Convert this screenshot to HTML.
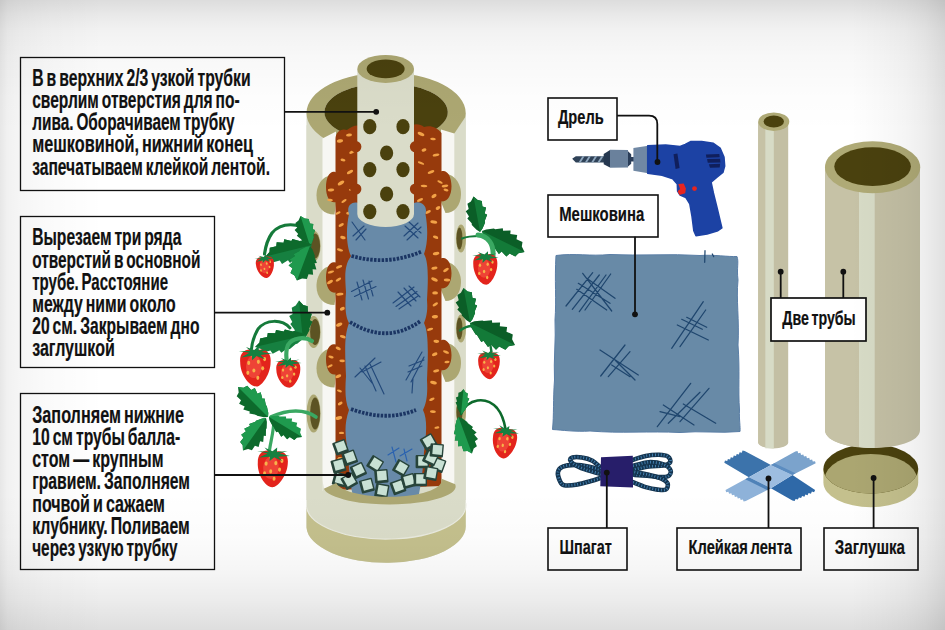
<!DOCTYPE html>
<html lang="ru"><head><meta charset="utf-8"><title>Клубника в трубе</title>
<style>html,body{margin:0;padding:0;background:#f1f1f1;}body{width:945px;height:630px;overflow:hidden}svg{display:block}text{font-family:"Liberation Sans",sans-serif;font-weight:bold;fill:#111;stroke:#111;stroke-width:0.2px;word-spacing:-2px}</style>
</head><body>
<svg width="945" height="630" viewBox="0 0 945 630">
<defs>
<linearGradient id="bgv" x1="0" y1="0" x2="0" y2="1">
<stop offset="0" stop-color="#000" stop-opacity="0.135"/><stop offset="0.025" stop-color="#000" stop-opacity="0.085"/><stop offset="0.05" stop-color="#000" stop-opacity="0.05"/><stop offset="0.09" stop-color="#000" stop-opacity="0.028"/><stop offset="0.15" stop-color="#000" stop-opacity="0.01"/><stop offset="0.21" stop-color="#000" stop-opacity="0"/>
<stop offset="0.78" stop-color="#000" stop-opacity="0"/><stop offset="0.86" stop-color="#000" stop-opacity="0.015"/><stop offset="0.91" stop-color="#000" stop-opacity="0.04"/><stop offset="0.955" stop-color="#000" stop-opacity="0.078"/><stop offset="1" stop-color="#000" stop-opacity="0.13"/>
</linearGradient>
<linearGradient id="bgh" x1="0" y1="0" x2="1" y2="0">
<stop offset="0" stop-color="#000" stop-opacity="0.095"/><stop offset="0.008" stop-color="#000" stop-opacity="0.055"/><stop offset="0.021" stop-color="#000" stop-opacity="0.038"/><stop offset="0.05" stop-color="#000" stop-opacity="0.02"/><stop offset="0.11" stop-color="#000" stop-opacity="0"/>
<stop offset="0.90" stop-color="#000" stop-opacity="0"/><stop offset="0.93" stop-color="#000" stop-opacity="0.018"/><stop offset="0.958" stop-color="#000" stop-opacity="0.04"/><stop offset="0.979" stop-color="#000" stop-opacity="0.07"/><stop offset="1" stop-color="#000" stop-opacity="0.12"/>
</linearGradient>
</defs>
<rect width="945" height="630" fill="#ffffff"/>
<g id="tube">
<path d="M306.5,113 L306.5,527.5 A79.6,36.5 0 0 0 465.7,525 L465.7,113 Z" fill="#dadcc9"/>
<path d="M306.5,507 A79.6,34 0 0 0 465.7,503 L465.7,525 A79.6,36.5 0 0 1 306.5,527.5 Z" fill="#c4c08d"/>
<path d="M306.5,507 A79.6,34 0 0 0 465.7,503" fill="none" stroke="#e9eadf" stroke-width="1.2"/>
<path fill-rule="evenodd" fill="#aca772" d="M306.5,113 A79.6,40.5 0 1 1 465.7,113 A79.6,40.5 0 1 1 306.5,113 Z M324.4,112 A61.7,29 0 1 0 447.8,112 A61.7,29 0 1 0 324.4,112 Z"/>
<ellipse cx="386.1" cy="112" rx="61.7" ry="29" fill="#4a410e"/>
<path d="M306.5,125 L322.5,138.5 L322.5,500 L306.5,500 Z" fill="#dadcc9"/>
<path d="M465.7,116.5 L454.3,133.5 L454.3,500 L465.7,500 Z" fill="#dadcc9"/>
<path d="M322.5,138.5 L336,131.5 L336,491 L322.5,491 Z" fill="#f7f7f3"/>
<path d="M441,129.5 L454.3,133.5 L454.3,487 L441,487 Z" fill="#f7f7f3"/>
<path d="M336,174.5 C322,174.5 316.5,185.5 316.5,195.5 C316.5,207.5 324,214.5 334.5,214.5 L336,203.5 Z" fill="#aca772"/>
<path d="M336,265 C322,265 316.5,276 316.5,286 C316.5,298 324,305 334.5,305 L336,294 Z" fill="#aca772"/>
<path d="M336,347.5 C322,347.5 316.5,358.5 316.5,368.5 C316.5,380.5 324,387.5 334.5,387.5 L336,376.5 Z" fill="#aca772"/>
<path d="M441,173 C455,173 461,184 461,194 C461,206 454,213 445.5,213 L441,202 Z" fill="#aca772"/>
<path d="M441,261 C455,261 461,272 461,282 C461,294 454,301 445.5,301 L441,290 Z" fill="#aca772"/>
<path d="M441,342 C455,342 461,353 461,363 C461,375 454,382 445.5,382 L441,371 Z" fill="#aca772"/>
<path d="M335.5,140 C335,132 341,128 347,130 C352,126 358,124 362,127 L410,127 C414,123 420,124 424,127 C430,125 437,127 441.5,133 L441.5,171.3 C447,169.3 451.5,176.3 451.5,186.3 C451.5,196.3 447,202.3 441.5,201.3 L441.5,258.3 C447,256.3 451.5,263.3 451.5,273.3 C451.5,283.3 447,289.3 441.5,288.3 L441.5,340.2 C447,338.2 451.5,345.2 451.5,355.2 C451.5,365.2 447,371.2 441.5,370.2 L441.5,486 L335.5,490 L335.5,374.5 C330,375.5 326,369.5 326,359.5 C326,349.5 330,342.5 335.5,344.5 L335.5,292.6 C330,293.6 326,287.6 326,277.6 C326,267.6 330,260.6 335.5,262.6 L335.5,202.2 C330,203.2 326,197.2 326,187.2 C326,177.2 330,170.2 335.5,172.2 Z" fill="#973a0c"/>
<g fill="#f2a247"><ellipse cx="340.0" cy="141.0" rx="3.1" ry="1.7" transform="rotate(-8 340.0 141.0)"/><ellipse cx="349.0" cy="135.0" rx="3.0" ry="1.5" transform="rotate(-7 349.0 135.0)"/><ellipse cx="352.0" cy="152.0" rx="3.0" ry="1.5" transform="rotate(-24 352.0 152.0)"/><ellipse cx="343.0" cy="160.0" rx="2.5" ry="1.4" transform="rotate(13 343.0 160.0)"/><ellipse cx="350.0" cy="172.0" rx="3.4" ry="1.5" transform="rotate(-30 350.0 172.0)"/><ellipse cx="341.0" cy="183.0" rx="3.6" ry="1.7" transform="rotate(-32 341.0 183.0)"/><ellipse cx="352.0" cy="190.0" rx="3.1" ry="1.3" transform="rotate(4 352.0 190.0)"/><ellipse cx="344.0" cy="201.0" rx="3.0" ry="1.2" transform="rotate(-34 344.0 201.0)"/><ellipse cx="338.0" cy="213.0" rx="2.7" ry="1.2" transform="rotate(-24 338.0 213.0)"/><ellipse cx="349.0" cy="213.0" rx="2.9" ry="1.6" transform="rotate(-7 349.0 213.0)"/><ellipse cx="331.0" cy="190.0" rx="3.2" ry="1.4" transform="rotate(-4 331.0 190.0)"/><ellipse cx="330.0" cy="200.0" rx="2.9" ry="1.3" transform="rotate(5 330.0 200.0)"/><ellipse cx="421.0" cy="134.0" rx="3.6" ry="1.6" transform="rotate(25 421.0 134.0)"/><ellipse cx="433.0" cy="139.0" rx="2.8" ry="1.3" transform="rotate(7 433.0 139.0)"/><ellipse cx="424.0" cy="150.0" rx="2.5" ry="1.6" transform="rotate(-18 424.0 150.0)"/><ellipse cx="436.0" cy="155.0" rx="3.4" ry="1.4" transform="rotate(-11 436.0 155.0)"/><ellipse cx="421.0" cy="163.0" rx="3.4" ry="1.2" transform="rotate(22 421.0 163.0)"/><ellipse cx="431.0" cy="172.0" rx="3.5" ry="1.4" transform="rotate(-22 431.0 172.0)"/><ellipse cx="440.0" cy="182.0" rx="2.9" ry="1.2" transform="rotate(24 440.0 182.0)"/><ellipse cx="424.0" cy="186.0" rx="3.3" ry="1.3" transform="rotate(3 424.0 186.0)"/><ellipse cx="434.0" cy="196.0" rx="2.8" ry="1.7" transform="rotate(-30 434.0 196.0)"/><ellipse cx="446.0" cy="190.0" rx="2.5" ry="1.3" transform="rotate(10 446.0 190.0)"/><ellipse cx="438.0" cy="208.0" rx="2.5" ry="1.6" transform="rotate(-29 438.0 208.0)"/><ellipse cx="428.0" cy="212.0" rx="3.1" ry="1.4" transform="rotate(-24 428.0 212.0)"/><ellipse cx="420.0" cy="200.0" rx="3.3" ry="1.3" transform="rotate(-24 420.0 200.0)"/><ellipse cx="341.2" cy="225.0" rx="2.9" ry="1.3" transform="rotate(-28 341.2 225.0)"/><ellipse cx="342.9" cy="237.6" rx="2.8" ry="1.6" transform="rotate(13 342.9 237.6)"/><ellipse cx="340.0" cy="249.9" rx="3.2" ry="1.3" transform="rotate(16 340.0 249.9)"/><ellipse cx="339.1" cy="266.8" rx="3.3" ry="1.4" transform="rotate(-20 339.1 266.8)"/><ellipse cx="338.4" cy="279.6" rx="3.1" ry="1.3" transform="rotate(-30 338.4 279.6)"/><ellipse cx="339.9" cy="294.2" rx="3.6" ry="1.4" transform="rotate(-8 339.9 294.2)"/><ellipse cx="342.3" cy="308.7" rx="2.6" ry="1.7" transform="rotate(-24 342.3 308.7)"/><ellipse cx="339.2" cy="324.6" rx="3.3" ry="1.7" transform="rotate(-24 339.2 324.6)"/><ellipse cx="342.8" cy="336.7" rx="3.1" ry="1.4" transform="rotate(18 342.8 336.7)"/><ellipse cx="338.2" cy="348.4" rx="2.7" ry="1.6" transform="rotate(23 338.2 348.4)"/><ellipse cx="342.1" cy="360.9" rx="2.8" ry="1.3" transform="rotate(1 342.1 360.9)"/><ellipse cx="338.3" cy="376.2" rx="3.1" ry="1.6" transform="rotate(-21 338.3 376.2)"/><ellipse cx="339.4" cy="390.9" rx="2.6" ry="1.2" transform="rotate(20 339.4 390.9)"/><ellipse cx="340.2" cy="403.5" rx="2.6" ry="1.4" transform="rotate(-31 340.2 403.5)"/><ellipse cx="338.7" cy="418.0" rx="3.5" ry="1.7" transform="rotate(-13 338.7 418.0)"/><ellipse cx="341.5" cy="432.9" rx="2.6" ry="1.2" transform="rotate(0 341.5 432.9)"/><ellipse cx="342.6" cy="444.0" rx="3.6" ry="1.2" transform="rotate(7 342.6 444.0)"/><ellipse cx="340.4" cy="458.8" rx="2.8" ry="1.7" transform="rotate(9 340.4 458.8)"/><ellipse cx="433.8" cy="222.0" rx="3.5" ry="1.6" transform="rotate(9 433.8 222.0)"/><ellipse cx="435.6" cy="237.2" rx="2.8" ry="1.5" transform="rotate(20 435.6 237.2)"/><ellipse cx="436.1" cy="253.6" rx="3.3" ry="1.6" transform="rotate(-10 436.1 253.6)"/><ellipse cx="434.4" cy="268.1" rx="3.1" ry="1.5" transform="rotate(-12 434.4 268.1)"/><ellipse cx="434.5" cy="279.5" rx="3.5" ry="1.6" transform="rotate(25 434.5 279.5)"/><ellipse cx="435.1" cy="292.9" rx="2.9" ry="1.6" transform="rotate(-0 435.1 292.9)"/><ellipse cx="435.3" cy="304.4" rx="3.1" ry="1.4" transform="rotate(-33 435.3 304.4)"/><ellipse cx="434.9" cy="316.8" rx="3.1" ry="1.7" transform="rotate(-5 434.9 316.8)"/><ellipse cx="430.1" cy="329.3" rx="3.2" ry="1.3" transform="rotate(-17 430.1 329.3)"/><ellipse cx="436.3" cy="341.3" rx="2.9" ry="1.6" transform="rotate(5 436.3 341.3)"/><ellipse cx="434.7" cy="354.3" rx="2.9" ry="1.6" transform="rotate(-23 434.7 354.3)"/><ellipse cx="436.2" cy="370.8" rx="3.1" ry="1.4" transform="rotate(-12 436.2 370.8)"/><ellipse cx="433.5" cy="382.6" rx="3.4" ry="1.6" transform="rotate(15 433.5 382.6)"/><ellipse cx="431.9" cy="399.3" rx="2.9" ry="1.3" transform="rotate(-25 431.9 399.3)"/><ellipse cx="432.9" cy="411.6" rx="3.0" ry="1.4" transform="rotate(3 432.9 411.6)"/><ellipse cx="436.9" cy="427.6" rx="2.5" ry="1.2" transform="rotate(-8 436.9 427.6)"/><ellipse cx="330.0" cy="282.0" rx="3.3" ry="1.5" transform="rotate(-33 330.0 282.0)"/><ellipse cx="331.0" cy="272.0" rx="3.3" ry="1.2" transform="rotate(-16 331.0 272.0)"/><ellipse cx="330.0" cy="366.0" rx="2.9" ry="1.2" transform="rotate(-27 330.0 366.0)"/><ellipse cx="331.0" cy="357.0" rx="2.7" ry="1.3" transform="rotate(15 331.0 357.0)"/><ellipse cx="446.0" cy="270.0" rx="3.2" ry="1.4" transform="rotate(-32 446.0 270.0)"/><ellipse cx="447.0" cy="280.0" rx="3.2" ry="1.6" transform="rotate(3 447.0 280.0)"/><ellipse cx="446.0" cy="352.0" rx="3.2" ry="1.3" transform="rotate(23 446.0 352.0)"/><ellipse cx="447.0" cy="362.0" rx="2.6" ry="1.2" transform="rotate(-6 447.0 362.0)"/><ellipse cx="445.0" cy="186.0" rx="3.3" ry="1.3" transform="rotate(-7 445.0 186.0)"/></g>
<path d="M349,214 C346,206 352,201 358,203 L414,203 C421,200 428,206 425.5,214 C428,228 428,244 424,254 C429,262 428,282 427,300 C428,312 426,318 424,323 C429,333 428,356 427,380 C428,396 426,404 423,410 C428,420 426,436 424,452 C423,470 421,486 418,498 L354,498 C350,488 349,470 348,452 C345,436 344,424 349,410 C345,402 345,390 346,376 C345,352 344,336 349,323 C345,316 345,304 346,292 C345,276 344,266 351,256 C346,246 346,228 349,214 Z" fill="#688aa8"/>
<path d="M351.5,256 Q388,266 421.5,251.5" fill="none" stroke="#1b3563" stroke-width="3.8" stroke-dasharray="2.5 1.3"/>
<path d="M350,322 Q387,345 420.5,321" fill="none" stroke="#1b3563" stroke-width="3.8" stroke-dasharray="2.5 1.3"/>
<path d="M351,409 Q386,422 416,410" fill="none" stroke="#1b3563" stroke-width="3.8" stroke-dasharray="2.5 1.3"/>
<path d="M352.0,222.0 L365.0,240.0 M353.0,236.0 L364.0,226.0 M356.0,240.0 L366.0,229.0" fill="none" stroke="#23497a" stroke-width="1.15" stroke-linecap="round"/>
<path d="M404.0,236.0 L418.0,223.0 M407.0,240.0 L421.0,227.0 M405.0,226.0 L418.0,238.0 M409.0,222.0 L421.0,233.0" fill="none" stroke="#23497a" stroke-width="1.15" stroke-linecap="round"/>
<path d="M351.5,291.5 L372.0,281.0 M354.5,296.5 L376.0,286.5 M357.0,282.0 L362.0,300.0 M363.0,280.0 L368.5,299.0 M369.0,281.0 L373.0,296.0" fill="none" stroke="#23497a" stroke-width="1.15" stroke-linecap="round"/>
<path d="M393.0,303.0 L414.0,287.0 M396.0,306.5 L417.0,291.5 M399.0,309.0 L418.0,296.0 M398.0,292.0 L411.0,306.0 M404.0,288.0 L416.0,301.0 M409.0,286.0 L420.0,297.0" fill="none" stroke="#23497a" stroke-width="1.15" stroke-linecap="round"/>
<path d="M355.0,377.0 L375.0,358.0 M362.0,372.0 L381.0,362.0 M365.0,366.0 L376.0,391.0 M370.0,364.0 L384.0,394.0 M360.0,368.0 L372.0,383.0" fill="none" stroke="#23497a" stroke-width="1.15" stroke-linecap="round"/>
<path d="M406.0,380.0 L422.0,352.0 M411.0,382.0 L424.0,357.0 M409.0,366.0 L424.0,360.0 M408.0,372.0 L422.0,366.0 M412.0,393.0 L413.0,378.0" fill="none" stroke="#23497a" stroke-width="1.15" stroke-linecap="round"/>
<path d="M388.0,455.0 L399.0,448.0 M392.0,447.0 L396.0,462.0 M400.0,456.0 L412.0,449.0 M404.0,449.0 L407.0,461.0" fill="none" stroke="#2a62b0" stroke-width="1.15" stroke-linecap="round"/>
<path d="M357.3,69 L357.3,214 A28.3,13 0 0 0 414,214 L414,69 Z" fill="#dadcc9"/>
<circle cx="355.8" cy="146.7" r="5.6" fill="#973a0c"/>
<circle cx="415.5" cy="146.7" r="5.6" fill="#973a0c"/>
<circle cx="355.8" cy="189" r="5.6" fill="#973a0c"/>
<circle cx="415.5" cy="189" r="5.6" fill="#973a0c"/>
<ellipse cx="385.65" cy="68.9" rx="28.35" ry="14" fill="#aca772"/>
<ellipse cx="385.65" cy="68.9" rx="19" ry="9.3" fill="#4a410e"/>
<ellipse cx="369.8" cy="126.7" rx="6.6" ry="7.6" fill="#4a410e"/>
<ellipse cx="403" cy="126.7" rx="6.6" ry="7.6" fill="#4a410e"/>
<ellipse cx="386.6" cy="153" rx="6.6" ry="7.6" fill="#4a410e"/>
<ellipse cx="369.8" cy="169.6" rx="6.6" ry="7.6" fill="#4a410e"/>
<ellipse cx="403" cy="169.6" rx="6.6" ry="7.6" fill="#4a410e"/>
<ellipse cx="386.6" cy="194" rx="6.6" ry="7.6" fill="#4a410e"/>
<ellipse cx="369.8" cy="211.6" rx="6.6" ry="7.6" fill="#4a410e"/>
<ellipse cx="403" cy="211.6" rx="6.6" ry="7.6" fill="#4a410e"/>
<g transform="rotate(-20 340.9 446.5)"><rect x="333.6" y="440.4" width="13.4" height="13.4" rx="1" fill="#27443a"/><rect x="336.2" y="441.8" width="9.4" height="9.4" fill="#c8e1d4"/></g><g transform="rotate(-15 338.9 465.0)"><rect x="331.6" y="458.9" width="13.4" height="13.4" rx="1" fill="#27443a"/><rect x="334.2" y="460.3" width="9.4" height="9.4" fill="#c8e1d4"/></g><g transform="rotate(-20 350.1 457.1)"><rect x="342.8" y="451.0" width="13.4" height="13.4" rx="1" fill="#27443a"/><rect x="345.4" y="452.4" width="9.4" height="9.4" fill="#c8e1d4"/></g><g transform="rotate(15 340.5 479.0)"><rect x="333.2" y="472.9" width="13.4" height="13.4" rx="1" fill="#27443a"/><rect x="335.8" y="474.3" width="9.4" height="9.4" fill="#c8e1d4"/></g><g transform="rotate(-25 358.7 469.7)"><rect x="351.4" y="463.6" width="13.4" height="13.4" rx="1" fill="#27443a"/><rect x="354.0" y="465.0" width="9.4" height="9.4" fill="#c8e1d4"/></g><g transform="rotate(-30 349.5 480.3)"><rect x="342.2" y="474.2" width="13.4" height="13.4" rx="1" fill="#27443a"/><rect x="344.8" y="475.6" width="9.4" height="9.4" fill="#c8e1d4"/></g><g transform="rotate(-15 367.3 484.9)"><rect x="360.0" y="478.8" width="13.4" height="13.4" rx="1" fill="#27443a"/><rect x="362.6" y="480.2" width="9.4" height="9.4" fill="#c8e1d4"/></g><g transform="rotate(32 375.9 463.7)"><rect x="368.6" y="457.6" width="13.4" height="13.4" rx="1" fill="#27443a"/><rect x="371.2" y="459.0" width="9.4" height="9.4" fill="#c8e1d4"/></g><g transform="rotate(-5 381.9 475.6)"><rect x="374.6" y="469.5" width="13.4" height="13.4" rx="1" fill="#27443a"/><rect x="377.2" y="470.9" width="9.4" height="9.4" fill="#c8e1d4"/></g><g transform="rotate(10 382.5 490.2)"><rect x="375.2" y="484.1" width="13.4" height="13.4" rx="1" fill="#27443a"/><rect x="377.8" y="485.5" width="9.4" height="9.4" fill="#c8e1d4"/></g><g transform="rotate(-20 398.4 486.2)"><rect x="391.1" y="480.1" width="13.4" height="13.4" rx="1" fill="#27443a"/><rect x="393.7" y="481.5" width="9.4" height="9.4" fill="#c8e1d4"/></g><g transform="rotate(30 401.7 467.7)"><rect x="394.4" y="461.6" width="13.4" height="13.4" rx="1" fill="#27443a"/><rect x="397.0" y="463.0" width="9.4" height="9.4" fill="#c8e1d4"/></g><g transform="rotate(-15 409.0 480.3)"><rect x="401.7" y="474.2" width="13.4" height="13.4" rx="1" fill="#27443a"/><rect x="404.3" y="475.6" width="9.4" height="9.4" fill="#c8e1d4"/></g><g transform="rotate(0 420.9 479.0)"><rect x="413.6" y="472.9" width="13.4" height="13.4" rx="1" fill="#27443a"/><rect x="416.2" y="474.3" width="9.4" height="9.4" fill="#c8e1d4"/></g><g transform="rotate(0 422.9 461.0)"><rect x="415.6" y="454.9" width="13.4" height="13.4" rx="1" fill="#27443a"/><rect x="418.2" y="456.3" width="9.4" height="9.4" fill="#c8e1d4"/></g><g transform="rotate(20 438.8 464.4)"><rect x="431.5" y="458.3" width="13.4" height="13.4" rx="1" fill="#27443a"/><rect x="434.1" y="459.7" width="9.4" height="9.4" fill="#c8e1d4"/></g><g transform="rotate(25 431.5 457.5)"><rect x="424.2" y="451.4" width="13.4" height="13.4" rx="1" fill="#27443a"/><rect x="426.8" y="452.8" width="9.4" height="9.4" fill="#c8e1d4"/></g><g transform="rotate(10 431.5 473.0)"><rect x="424.2" y="466.9" width="13.4" height="13.4" rx="1" fill="#27443a"/><rect x="426.8" y="468.3" width="9.4" height="9.4" fill="#c8e1d4"/></g><g transform="rotate(-30 428.8 441.2)"><rect x="421.5" y="435.1" width="13.4" height="13.4" rx="1" fill="#27443a"/><rect x="424.1" y="436.5" width="9.4" height="9.4" fill="#c8e1d4"/></g><g transform="rotate(5 437.4 449.8)"><rect x="430.1" y="443.7" width="13.4" height="13.4" rx="1" fill="#27443a"/><rect x="432.7" y="445.1" width="9.4" height="9.4" fill="#c8e1d4"/></g>
<path d="M322.5,480 L322.5,500 L456,500 L456,478 L454.3,484.3 A65.7,17.8 0 0 1 323.8,488.7 Z" fill="#dadcc9"/>
<path d="M323.8,488.7 A65.7,17.8 0 0 0 455.2,484.3 L441,478.6 A52.4,15.9 0 0 1 336.2,483 Z" fill="#aca772"/>
<ellipse cx="313.6" cy="246" rx="7" ry="15.5" fill="#aca772"/>
<ellipse cx="315.1" cy="246" rx="5" ry="12.5" fill="#5c5323"/>
<ellipse cx="313.6" cy="332" rx="7" ry="16" fill="#aca772"/>
<ellipse cx="315.1" cy="332" rx="5" ry="13" fill="#5c5323"/>
<ellipse cx="313.6" cy="413.5" rx="7" ry="19" fill="#aca772"/>
<ellipse cx="315.1" cy="413.5" rx="5" ry="16" fill="#5c5323"/>
<ellipse cx="461" cy="238.5" rx="5" ry="14" fill="#aca772"/>
<ellipse cx="459.5" cy="238.5" rx="3" ry="11" fill="#5c5323"/>
<ellipse cx="461" cy="328.5" rx="5" ry="14" fill="#aca772"/>
<ellipse cx="459.5" cy="328.5" rx="3" ry="11" fill="#5c5323"/>
<ellipse cx="461" cy="412" rx="5" ry="14" fill="#aca772"/>
<ellipse cx="459.5" cy="412" rx="3" ry="11" fill="#5c5323"/>
</g>
<g id="plants">
<path d="M309,233 C300,222 281,222 272,233 C267,240 265.5,247 264.5,254" fill="none" stroke="#157a3a" stroke-width="3.2" stroke-linecap="round"/>
<path d="M310.0,246.0 L312.0,242.7 L313.9,237.0 L313.3,235.7 L315.0,230.1 L312.7,229.3 L313.3,224.0 L309.8,223.6 L308.7,218.9 L304.7,218.6 L300.5,216.0 L300.5,216.0 L298.5,220.6 L295.4,223.0 L297.2,227.6 L294.6,229.9 L298.2,233.9 L296.8,235.8 L301.4,239.5 L301.7,240.9 L306.5,244.5 L310.0,246.0 Z" fill="#0d6a2c"/>
<path d="M310.0,246.0 L312.0,242.7 L313.9,237.0 L313.3,235.7 L315.0,230.1 L312.7,229.3 L313.3,224.0 L309.8,223.6 L308.7,218.9 L304.7,218.6 L300.5,216.0 Z" fill="#1f9a4e"/>
<path d="M312.0,245.0 L308.3,242.8 L301.0,240.7 L299.7,241.0 L292.3,238.9 L291.4,241.0 L284.2,239.3 L283.6,242.7 L276.7,242.3 L276.3,246.3 L269.8,247.7 L269.5,252.0 L265.5,256.5 L265.5,256.5 L271.1,258.7 L273.4,262.2 L279.8,260.5 L282.0,263.9 L288.0,260.3 L290.0,263.0 L295.7,258.2 L297.4,259.6 L302.9,254.3 L304.3,253.9 L309.8,248.7 L312.0,245.0 Z" fill="#168040"/>
<path d="M312.0,245.0 L308.3,242.8 L301.0,240.7 L299.7,241.0 L292.3,238.9 L291.4,241.0 L284.2,239.3 L283.6,242.7 L276.7,242.3 L276.3,246.3 L269.8,247.7 L269.5,252.0 L265.5,256.5 Z" fill="#0d6a2c"/>
<path d="M310.0,246.0 L305.8,246.9 L299.9,250.1 L299.5,251.1 L293.5,254.3 L295.1,256.0 L289.7,259.4 L292.7,261.7 L288.6,265.6 L292.5,268.2 L290.5,272.9 L294.5,275.5 L297.0,280.5 L297.0,280.5 L302.1,278.4 L306.9,279.0 L308.5,274.2 L313.1,274.8 L312.6,269.2 L316.4,269.5 L314.6,263.3 L316.9,263.1 L314.5,256.8 L314.9,255.8 L312.5,249.4 L310.0,246.0 Z" fill="#0d6a2c"/>
<path d="M310.0,246.0 L305.8,246.9 L299.9,250.1 L299.5,251.1 L293.5,254.3 L295.1,256.0 L289.7,259.4 L292.7,261.7 L288.6,265.6 L292.5,268.2 L290.5,272.9 L294.5,275.5 L297.0,280.5 Z" fill="#1f9a4e"/>
<g transform="rotate(-5 265.2 267.0)"><path d="M265.2,257.3 C270.6,255.1 274.7,258.2 274.2,263.9 C274.2,270.5 269.2,278.0 265.9,278.0 C261.2,278.0 256.2,270.5 256.2,263.9 C255.7,258.2 259.8,255.1 265.2,257.3 Z" fill="#e3241c"/><ellipse cx="264.3" cy="266.6" rx="4.7" ry="6.6" fill="#ee4336"/><ellipse cx="261.2" cy="264.4" rx="0.9" ry="1.2" fill="#f7b24a"/><ellipse cx="267.0" cy="263.7" rx="0.9" ry="1.2" fill="#f7b24a"/><ellipse cx="264.3" cy="268.8" rx="0.9" ry="1.2" fill="#f7b24a"/><ellipse cx="269.5" cy="267.4" rx="0.9" ry="1.2" fill="#f7b24a"/><ellipse cx="260.7" cy="270.1" rx="0.9" ry="1.2" fill="#f7b24a"/><ellipse cx="266.6" cy="272.9" rx="0.9" ry="1.2" fill="#f7b24a"/><ellipse cx="270.6" cy="262.2" rx="0.9" ry="1.2" fill="#f7b24a"/><ellipse cx="263.8" cy="260.4" rx="0.9" ry="1.2" fill="#f7b24a"/><path d="M267.2,254.5 L267.2,257.1 L273.6,256.1 L268.7,257.9 L275.1,258.9 L268.2,259.8 L270.8,262.2 L265.9,260.4 L263.2,262.7 L263.2,260.2 L256.8,261.1 L261.7,258.5 L255.3,257.5 L262.2,257.5 L259.6,255.1 L264.5,256.9 Z" fill="#168040"/></g>
<path d="M290,328 C282,319 266,319 258,329 C254,336 252,342 251.5,349" fill="none" stroke="#157a3a" stroke-width="3.0" stroke-linecap="round"/>
<path d="M303.0,340.0 L306.0,336.5 L309.4,330.0 L309.1,328.2 L312.3,321.7 L309.8,320.2 L311.8,313.8 L307.9,312.4 L307.7,306.2 L303.2,304.9 L299.0,300.5 L299.0,300.5 L295.7,305.6 L291.7,307.8 L292.7,313.9 L289.2,316.1 L292.3,321.9 L290.3,323.9 L294.6,329.7 L294.7,331.5 L299.3,337.2 L303.0,340.0 Z" fill="#168040"/>
<path d="M303.0,340.0 L306.0,336.5 L309.4,330.0 L309.1,328.2 L312.3,321.7 L309.8,320.2 L311.8,313.8 L307.9,312.4 L307.7,306.2 L303.2,304.9 L299.0,300.5 Z" fill="#0d6a2c"/>
<path d="M306.0,335.0 L302.1,332.9 L294.2,331.1 L292.8,331.4 L284.9,329.5 L283.8,331.5 L276.0,330.1 L275.3,333.3 L267.8,333.1 L267.2,337.0 L260.1,338.5 L259.5,342.5 L255.0,347.0 L255.0,347.0 L261.0,349.0 L263.4,352.4 L270.4,350.5 L272.7,353.8 L279.3,350.2 L281.4,352.8 L287.7,348.0 L289.6,349.3 L295.8,344.1 L297.2,343.8 L303.4,338.6 L306.0,335.0 Z" fill="#168040"/>
<path d="M306.0,335.0 L302.1,332.9 L294.2,331.1 L292.8,331.4 L284.9,329.5 L283.8,331.5 L276.0,330.1 L275.3,333.3 L267.8,333.1 L267.2,337.0 L260.1,338.5 L259.5,342.5 L255.0,347.0 Z" fill="#0d6a2c"/>
<path d="M312,341 C304,336 292,338 288,345 C286,350 286,354 286.5,359" fill="none" stroke="#3aa862" stroke-width="4.2" stroke-linecap="round"/>
<g transform="rotate(0 255.4 367.5)"><path d="M255.4,350.8 C264.6,347.0 271.6,352.3 270.6,362.2 C270.6,373.6 262.1,386.5 256.6,386.5 C248.7,386.5 240.2,373.6 240.2,362.2 C239.2,352.3 246.2,347.0 255.4,350.8 Z" fill="#e3241c"/><ellipse cx="253.9" cy="366.7" rx="7.9" ry="11.4" fill="#ee4336"/><ellipse cx="248.7" cy="362.9" rx="1.5" ry="2.1" fill="#f7b24a"/><ellipse cx="258.4" cy="361.8" rx="1.5" ry="2.1" fill="#f7b24a"/><ellipse cx="253.9" cy="370.5" rx="1.5" ry="2.1" fill="#f7b24a"/><ellipse cx="262.7" cy="368.3" rx="1.5" ry="2.1" fill="#f7b24a"/><ellipse cx="247.8" cy="372.8" rx="1.5" ry="2.1" fill="#f7b24a"/><ellipse cx="257.8" cy="377.8" rx="1.5" ry="2.1" fill="#f7b24a"/><ellipse cx="264.6" cy="359.1" rx="1.5" ry="2.1" fill="#f7b24a"/><ellipse cx="253.0" cy="356.1" rx="1.5" ry="2.1" fill="#f7b24a"/><path d="M258.8,346.0 L258.8,350.4 L269.6,348.7 L261.4,351.9 L272.1,353.6 L260.5,355.1 L264.8,359.2 L256.6,356.1 L252.0,360.2 L252.0,355.7 L241.2,357.4 L249.4,352.7 L238.7,351.0 L250.3,351.0 L246.0,346.9 L254.2,350.1 Z" fill="#168040"/></g>
<g transform="rotate(0 288.3 373.5)"><path d="M288.3,361.0 C295.5,358.1 301.0,362.1 300.3,369.5 C300.3,378.1 293.6,387.8 289.3,387.8 C283.0,387.8 276.3,378.1 276.3,369.5 C275.6,362.1 281.1,358.1 288.3,361.0 Z" fill="#e3241c"/><ellipse cx="287.1" cy="372.9" rx="6.2" ry="8.5" fill="#ee4336"/><ellipse cx="283.0" cy="370.1" rx="1.2" ry="1.6" fill="#f7b24a"/><ellipse cx="290.7" cy="369.2" rx="1.2" ry="1.6" fill="#f7b24a"/><ellipse cx="287.1" cy="375.8" rx="1.2" ry="1.6" fill="#f7b24a"/><ellipse cx="294.1" cy="374.1" rx="1.2" ry="1.6" fill="#f7b24a"/><ellipse cx="282.3" cy="377.5" rx="1.2" ry="1.6" fill="#f7b24a"/><ellipse cx="290.2" cy="381.2" rx="1.2" ry="1.6" fill="#f7b24a"/><ellipse cx="295.5" cy="367.2" rx="1.2" ry="1.6" fill="#f7b24a"/><ellipse cx="286.4" cy="364.9" rx="1.2" ry="1.6" fill="#f7b24a"/><path d="M291.0,357.4 L291.0,360.7 L299.5,359.4 L293.0,361.8 L301.5,363.1 L292.3,364.2 L295.7,367.3 L289.2,364.9 L285.6,368.0 L285.6,364.7 L277.1,365.9 L283.6,362.4 L275.1,361.1 L284.3,361.1 L280.9,358.1 L287.4,360.4 Z" fill="#168040"/></g>
<path d="M316,417 C305,409 288,409 271,417" fill="none" stroke="#3aa862" stroke-width="3.6" stroke-linecap="round"/>
<path d="M274,419 C274,430 271,440 269.5,450" fill="none" stroke="#3aa862" stroke-width="3.2" stroke-linecap="round"/>
<path d="M268.0,417.0 L268.3,412.9 L266.8,406.1 L265.9,405.3 L264.5,398.4 L262.4,398.8 L260.6,392.3 L257.5,393.7 L254.8,388.1 L251.2,390.0 L247.2,385.7 L243.5,387.7 L238.0,387.0 L238.0,387.0 L238.7,392.5 L236.7,396.2 L241.0,400.2 L239.1,403.8 L244.7,406.5 L243.3,409.6 L249.8,411.4 L249.4,413.5 L256.3,414.9 L257.1,415.8 L263.9,417.3 L268.0,417.0 Z" fill="#0d6a2c"/>
<path d="M268.0,417.0 L268.3,412.9 L266.8,406.1 L265.9,405.3 L264.5,398.4 L262.4,398.8 L260.6,392.3 L257.5,393.7 L254.8,388.1 L251.2,390.0 L247.2,385.7 L243.5,387.7 L238.0,387.0 Z" fill="#1f9a4e"/>
<path d="M269.0,417.0 L269.7,420.5 L272.6,426.1 L273.5,426.7 L276.3,432.3 L278.1,431.5 L281.2,436.8 L283.5,435.0 L287.1,439.3 L289.8,437.0 L294.3,439.9 L297.0,437.5 L302.0,437.0 L302.0,437.0 L300.1,432.4 L301.0,428.8 L296.4,426.2 L297.2,422.8 L291.7,421.5 L292.1,418.6 L286.1,418.4 L286.0,416.4 L279.7,416.5 L278.7,416.0 L272.5,416.0 L269.0,417.0 Z" fill="#1f9a4e"/>
<path d="M269.0,417.0 L269.7,420.5 L272.6,426.1 L273.5,426.7 L276.3,432.3 L278.1,431.5 L281.2,436.8 L283.5,435.0 L287.1,439.3 L289.8,437.0 L294.3,439.9 L297.0,437.5 L302.0,437.0 Z" fill="#0d6a2c"/>
<path d="M266.0,418.0 L262.2,418.4 L256.0,420.8 L255.4,421.7 L249.2,424.1 L250.0,426.0 L244.2,428.7 L246.0,431.3 L241.2,434.7 L243.5,437.7 L240.2,442.1 L242.7,445.2 L243.0,450.5 L243.0,450.5 L248.1,449.1 L251.9,450.3 L254.9,445.7 L258.6,447.0 L260.1,441.3 L263.2,442.1 L263.8,435.8 L265.9,435.9 L266.0,429.2 L266.7,428.3 L266.9,421.7 L266.0,418.0 Z" fill="#0d6a2c"/>
<path d="M266.0,418.0 L262.2,418.4 L256.0,420.8 L255.4,421.7 L249.2,424.1 L250.0,426.0 L244.2,428.7 L246.0,431.3 L241.2,434.7 L243.5,437.7 L240.2,442.1 L242.7,445.2 L243.0,450.5 Z" fill="#1f9a4e"/>
<g transform="rotate(4 272.4 468.5)"><path d="M272.4,452.0 C281.4,448.2 288.3,453.5 287.4,463.2 C287.4,474.5 279.0,487.2 273.6,487.2 C265.8,487.2 257.4,474.5 257.4,463.2 C256.5,453.5 263.4,448.2 272.4,452.0 Z" fill="#e3241c"/><ellipse cx="270.9" cy="467.8" rx="7.8" ry="11.2" fill="#ee4336"/><ellipse cx="265.8" cy="464.0" rx="1.5" ry="2.1" fill="#f7b24a"/><ellipse cx="275.4" cy="462.9" rx="1.5" ry="2.1" fill="#f7b24a"/><ellipse cx="270.9" cy="471.5" rx="1.5" ry="2.1" fill="#f7b24a"/><ellipse cx="279.6" cy="469.2" rx="1.5" ry="2.1" fill="#f7b24a"/><ellipse cx="264.9" cy="473.8" rx="1.5" ry="2.1" fill="#f7b24a"/><ellipse cx="274.8" cy="478.6" rx="1.5" ry="2.1" fill="#f7b24a"/><ellipse cx="281.4" cy="460.2" rx="1.5" ry="2.1" fill="#f7b24a"/><ellipse cx="270.0" cy="457.2" rx="1.5" ry="2.1" fill="#f7b24a"/><path d="M275.7,447.3 L275.8,451.6 L286.4,450.0 L278.3,453.1 L288.9,454.8 L277.4,456.3 L281.7,460.3 L273.5,457.2 L269.1,461.2 L269.0,456.9 L258.4,458.5 L266.5,453.9 L255.9,452.2 L267.4,452.2 L263.1,448.2 L271.3,451.3 Z" fill="#168040"/></g>
<path d="M462,238.5 C468,236 474,236 480,236" fill="none" stroke="#157a3a" stroke-width="2.2" stroke-linecap="round"/>
<path d="M480.0,232.0 L482.5,228.6 L485.1,222.4 L484.7,220.9 L487.1,214.7 L484.7,213.5 L486.0,207.6 L482.4,206.6 L481.8,201.0 L477.7,200.1 L473.5,196.5 L473.5,196.5 L470.9,201.4 L467.4,203.7 L468.7,209.1 L465.7,211.3 L469.0,216.4 L467.3,218.4 L471.7,223.3 L471.8,224.9 L476.5,229.7 L480.0,232.0 Z" fill="#0b5e27"/>
<path d="M480.0,232.0 L482.5,228.6 L485.1,222.4 L484.7,220.9 L487.1,214.7 L484.7,213.5 L486.0,207.6 L482.4,206.6 L481.8,201.0 L477.7,200.1 L473.5,196.5 Z" fill="#137a38"/>
<path d="M482.0,231.0 L483.2,235.3 L487.3,241.9 L488.5,242.5 L492.5,249.1 L494.6,248.0 L498.9,254.1 L501.6,251.6 L506.5,256.6 L509.5,253.4 L515.3,256.5 L518.4,253.2 L524.5,252.0 L524.5,252.0 L521.8,246.5 L522.5,242.0 L516.5,239.2 L517.2,234.9 L510.3,234.0 L510.6,230.4 L503.1,230.7 L502.8,228.3 L495.1,229.2 L493.9,228.6 L486.2,229.4 L482.0,231.0 Z" fill="#0b5e27"/>
<path d="M482.0,231.0 L483.2,235.3 L487.3,241.9 L488.5,242.5 L492.5,249.1 L494.6,248.0 L498.9,254.1 L501.6,251.6 L506.5,256.6 L509.5,253.4 L515.3,256.5 L518.4,253.2 L524.5,252.0 Z" fill="#137a38"/>
<path d="M478,235 C488,236 494,244 493,256" fill="none" stroke="#3aa862" stroke-width="5" stroke-linecap="round"/>
<g transform="rotate(0 485.3 269.0)"><path d="M485.3,255.1 C492.5,252.0 498.0,256.4 497.3,264.6 C497.3,274.0 490.6,284.8 486.3,284.8 C480.0,284.8 473.3,274.0 473.3,264.6 C472.6,256.4 478.1,252.0 485.3,255.1 Z" fill="#e3241c"/><ellipse cx="484.1" cy="268.4" rx="6.2" ry="9.4" fill="#ee4336"/><ellipse cx="480.0" cy="265.2" rx="1.2" ry="1.7" fill="#f7b24a"/><ellipse cx="487.7" cy="264.3" rx="1.2" ry="1.7" fill="#f7b24a"/><ellipse cx="484.1" cy="271.5" rx="1.2" ry="1.7" fill="#f7b24a"/><ellipse cx="491.1" cy="269.6" rx="1.2" ry="1.7" fill="#f7b24a"/><ellipse cx="479.3" cy="273.4" rx="1.2" ry="1.7" fill="#f7b24a"/><ellipse cx="487.2" cy="277.5" rx="1.2" ry="1.7" fill="#f7b24a"/><ellipse cx="492.5" cy="262.1" rx="1.2" ry="1.7" fill="#f7b24a"/><ellipse cx="483.4" cy="259.6" rx="1.2" ry="1.7" fill="#f7b24a"/><path d="M488.0,251.2 L488.0,254.8 L496.5,253.4 L490.0,256.0 L498.5,257.5 L489.3,258.7 L492.7,262.1 L486.2,259.5 L482.6,262.9 L482.6,259.2 L474.1,260.6 L480.6,256.8 L472.1,255.3 L481.3,255.3 L477.9,251.9 L484.4,254.5 Z" fill="#168040"/></g>
<path d="M460,330.5 C466,326 472,325 478,327 C486,330 490,340 491.5,352" fill="none" stroke="#157a3a" stroke-width="2.4" stroke-linecap="round"/>
<path d="M470.0,322.5 L472.5,319.2 L475.1,313.1 L474.7,311.6 L477.1,305.6 L474.7,304.5 L476.0,298.7 L472.4,297.8 L471.8,292.3 L467.6,291.5 L463.5,288.0 L463.5,288.0 L460.9,292.8 L457.4,295.0 L458.7,300.3 L455.7,302.5 L459.0,307.4 L457.3,309.4 L461.7,314.1 L461.8,315.6 L466.5,320.3 L470.0,322.5 Z" fill="#0b5e27"/>
<path d="M470.0,322.5 L472.5,319.2 L475.1,313.1 L474.7,311.6 L477.1,305.6 L474.7,304.5 L476.0,298.7 L472.4,297.8 L471.8,292.3 L467.6,291.5 L463.5,288.0 Z" fill="#137a38"/>
<path d="M470.0,323.0 L471.3,327.5 L475.7,334.4 L477.0,335.0 L481.3,341.9 L483.5,340.7 L488.0,347.1 L490.9,344.6 L496.0,349.7 L499.2,346.4 L505.4,349.7 L508.6,346.2 L515.0,345.0 L515.0,345.0 L512.1,339.2 L512.8,334.5 L506.5,331.7 L507.1,327.1 L499.8,326.2 L500.1,322.4 L492.2,322.7 L491.9,320.3 L483.7,321.1 L482.5,320.5 L474.4,321.3 L470.0,323.0 Z" fill="#0b5e27"/>
<path d="M470.0,323.0 L471.3,327.5 L475.7,334.4 L477.0,335.0 L481.3,341.9 L483.5,340.7 L488.0,347.1 L490.9,344.6 L496.0,349.7 L499.2,346.4 L505.4,349.7 L508.6,346.2 L515.0,345.0 Z" fill="#137a38"/>
<g transform="rotate(0 489.0 365.5)"><path d="M489.0,353.4 C495.4,350.6 500.4,354.5 499.8,361.6 C499.8,369.9 493.7,379.2 489.9,379.2 C484.3,379.2 478.2,369.9 478.2,361.6 C477.6,354.5 482.6,350.6 489.0,353.4 Z" fill="#e3241c"/><ellipse cx="487.9" cy="364.9" rx="5.6" ry="8.2" fill="#ee4336"/><ellipse cx="484.3" cy="362.2" rx="1.1" ry="1.5" fill="#f7b24a"/><ellipse cx="491.1" cy="361.4" rx="1.1" ry="1.5" fill="#f7b24a"/><ellipse cx="487.9" cy="367.7" rx="1.1" ry="1.5" fill="#f7b24a"/><ellipse cx="494.2" cy="366.1" rx="1.1" ry="1.5" fill="#f7b24a"/><ellipse cx="483.6" cy="369.4" rx="1.1" ry="1.5" fill="#f7b24a"/><ellipse cx="490.7" cy="372.9" rx="1.1" ry="1.5" fill="#f7b24a"/><ellipse cx="495.4" cy="359.4" rx="1.1" ry="1.5" fill="#f7b24a"/><ellipse cx="487.3" cy="357.2" rx="1.1" ry="1.5" fill="#f7b24a"/><path d="M491.4,349.9 L491.4,353.1 L499.0,351.9 L493.2,354.2 L500.8,355.4 L492.6,356.5 L495.7,359.5 L489.8,357.2 L486.6,360.2 L486.6,357.0 L479.0,358.2 L484.8,354.8 L477.2,353.6 L485.4,353.6 L482.3,350.6 L488.2,352.9 Z" fill="#168040"/></g>
<path d="M461,414 C468,398 486,396 497,408 C502,414 504,420 505.5,429" fill="none" stroke="#0d6a2c" stroke-width="2.6" stroke-linecap="round"/>
<path d="M461.0,414.0 L463.2,412.2 L466.0,408.6 L466.0,407.4 L468.6,403.8 L467.4,402.5 L469.3,398.8 L467.2,397.5 L467.8,393.6 L465.4,392.2 L463.5,389.0 L463.5,389.0 L461.0,391.8 L458.4,392.7 L458.2,396.5 L455.9,397.5 L457.0,401.5 L455.6,402.5 L457.4,406.6 L457.2,407.7 L459.2,411.8 L461.0,414.0 Z" fill="#0d6a2c"/>
<path d="M461.0,414.0 L463.2,412.2 L466.0,408.6 L466.0,407.4 L468.6,403.8 L467.4,402.5 L469.3,398.8 L467.2,397.5 L467.8,393.6 L465.4,392.2 L463.5,389.0 Z" fill="#1f9a4e"/>
<path d="M458.5,417.0 L456.6,420.3 L455.1,426.6 L455.5,427.7 L453.9,434.0 L455.9,434.4 L454.8,440.6 L458.0,440.6 L458.0,446.3 L461.8,446.1 L463.5,451.2 L467.5,450.9 L472.0,453.5 L472.0,453.5 L473.7,448.6 L476.9,446.2 L474.9,441.2 L478.0,438.9 L474.2,434.6 L476.6,432.5 L471.8,428.5 L473.0,426.9 L467.7,423.1 L467.3,422.1 L462.1,418.3 L458.5,417.0 Z" fill="#0d6a2c"/>
<path d="M458.5,417.0 L456.6,420.3 L455.1,426.6 L455.5,427.7 L453.9,434.0 L455.9,434.4 L454.8,440.6 L458.0,440.6 L458.0,446.3 L461.8,446.1 L463.5,451.2 L467.5,450.9 L472.0,453.5 Z" fill="#1f9a4e"/>
<g transform="rotate(8 504.3 443.0)"><path d="M504.3,429.4 C511.5,426.3 517.0,430.6 516.3,438.7 C516.3,448.0 509.6,458.5 505.3,458.5 C499.0,458.5 492.3,448.0 492.3,438.7 C491.6,430.6 497.1,426.3 504.3,429.4 Z" fill="#e3241c"/><ellipse cx="503.1" cy="442.4" rx="6.2" ry="9.3" fill="#ee4336"/><ellipse cx="499.0" cy="439.3" rx="1.2" ry="1.7" fill="#f7b24a"/><ellipse cx="506.7" cy="438.4" rx="1.2" ry="1.7" fill="#f7b24a"/><ellipse cx="503.1" cy="445.5" rx="1.2" ry="1.7" fill="#f7b24a"/><ellipse cx="510.1" cy="443.6" rx="1.2" ry="1.7" fill="#f7b24a"/><ellipse cx="498.3" cy="447.3" rx="1.2" ry="1.7" fill="#f7b24a"/><ellipse cx="506.2" cy="451.4" rx="1.2" ry="1.7" fill="#f7b24a"/><ellipse cx="511.5" cy="436.2" rx="1.2" ry="1.7" fill="#f7b24a"/><ellipse cx="502.4" cy="433.7" rx="1.2" ry="1.7" fill="#f7b24a"/><path d="M507.0,425.4 L507.0,429.1 L515.5,427.7 L509.0,430.2 L517.5,431.6 L508.3,432.9 L511.7,436.2 L505.2,433.7 L501.6,437.0 L501.6,433.4 L493.1,434.8 L499.6,431.0 L491.1,429.6 L500.3,429.6 L496.9,426.2 L503.4,428.8 Z" fill="#168040"/></g>
</g>
<g id="right">
<path d="M556,255.5 C575,253 590,256.5 610,254.5 C640,256 670,253.5 700,255.5 C715,254.5 728,257 737,256.5 C739,262 736.5,268 738,280 C736,300 739.5,320 738,345 C740,370 738,390 739.5,410 C739,420 740.5,427 740,431.5 C720,433.5 700,430.5 680,432.5 C650,431 620,433.5 590,431 C575,432 562,430 552.5,429.5 C554,415 553,400 554.5,380 C553.5,360 556,340 555,320 C556.5,300 554.5,280 556,255.5 Z" fill="#688aa7" stroke="#5a7ea6" stroke-width="1"/>
<path d="M566.0,306.0 L592.7,272.7 M572.3,309.3 L599.3,275.0 M579.3,311.7 L606.0,275.0 M585.0,310.0 L610.7,274.0 M582.7,273.3 L611.7,311.0 M578.3,283.3 L610.0,303.3 M576.7,289.3 L606.7,310.0 M586.7,278.3 L615.0,298.3" fill="none" stroke="#1f466e" stroke-width="1.25" stroke-linecap="round"/>
<path d="M600.7,376.0 L625.0,345.0 M608.3,376.7 L630.0,351.7 M600.0,350.0 L638.3,375.0 M615.0,360.0 L635.0,380.0 M611.7,365.0 L630.0,376.7" fill="none" stroke="#1f466e" stroke-width="1.25" stroke-linecap="round"/>
<path d="M671.7,348.3 L703.3,301.7 M680.0,346.7 L705.7,310.0 M677.3,325.0 L708.3,340.0 M681.7,319.3 L702.3,329.3 M686.7,317.3 L706.7,327.3" fill="none" stroke="#1f466e" stroke-width="1.25" stroke-linecap="round"/>
<path d="M657.3,426.7 L690.7,383.3 M668.3,423.3 L700.0,392.3 M680.0,421.7 L709.0,388.3 M663.3,405.0 L694.0,425.0 M683.3,404.0 L715.7,423.3 M660.0,411.7 L680.0,416.7" fill="none" stroke="#1f466e" stroke-width="1.25" stroke-linecap="round"/>
<path d="M705.0,250.7 L704.7,262.3 M712.3,254.0 L713.7,256.7" fill="none" stroke="#1f466e" stroke-width="1.25" stroke-linecap="round"/>
<path d="M572.2,158.8 L575.8,156.3 L604.9,156.3 L604.9,162.6 L575.8,162.6 Z" fill="#2f4258" />
<path d="M578.5,162.6 L582.4,156.3 L584.6,156.3 L580.7,162.6 Z" fill="#8ea6bd" />
<path d="M584.8,162.6 L588.7,156.3 L590.9,156.3 L586.9,162.6 Z" fill="#8ea6bd" />
<path d="M591.1,162.6 L595.0,156.3 L597.2,156.3 L593.2,162.6 Z" fill="#8ea6bd" />
<path d="M597.4,162.6 L601.3,156.3 L603.5,156.3 L599.5,162.6 Z" fill="#8ea6bd" />
<path d="M603.7,153.9 L610.0,150.1 L610.0,167.4 L603.7,164.2 Z" fill="#263850" />
<path d="M610.0,149.8 L628.0,150.1 L628.0,167.4 L610.0,167.8 Z" fill="#6a819c" />
<path d="M628.0,151.2 L631.2,154.3 L631.2,157.0 L634.3,157.0 L634.3,161.5 L631.2,161.5 L631.2,163.8 L628.0,166.5 Z" fill="#2a3d58" />
<path d="M633.4,148.0 L648.1,145.8 L648.1,173.2 L633.4,170.7 Z" fill="#7088a4" />
<path d="M647.7,145.8 L665.7,145.1 L680.1,146.5 L685.2,144.4 L690.9,141.5 L701.7,141.5 L713.4,143.3 L720.1,148.0 L724.0,157.0 L724.7,166.0 L722.9,172.5 L717.0,177.1 L711.1,182.2 L713.4,193.0 L717.0,207.4 L720.8,223.5 L721.9,228.0 L717.9,230.7 L707.1,234.0 L696.0,235.8 L693.8,230.7 L692.0,216.3 L689.8,203.8 L685.9,197.5 L680.1,195.1 L677.6,191.2 L677.3,184.0 L672.9,178.9 L662.1,175.3 L647.7,173.2 Z" fill="#1c42a4" stroke="#1c42a4" stroke-width="1.5" stroke-linejoin="round"/>
<path d="M673.5,154.3 L677.4,153.4 L679.6,168.1 L675.6,169.0 Z" fill="#101f5c" />
<path d="M705.9,154.5 L719.3,154.1 L719.7,157.3 L706.4,157.7 Z" fill="#101f5c" />
<path d="M707.1,159.1 L720.1,158.8 L720.4,162.4 L707.8,162.7 Z" fill="#101f5c" />
<path d="M708.9,164.2 L720.1,163.8 L719.7,167.4 L710.0,167.8 Z" fill="#101f5c" />
<path d="M678.3,184.0 L683.7,183.6 L685.9,188.5 L685.2,193.3 L679.4,195.1 L677.6,191.2 L680.1,189.0 Z" fill="#e8251f" />
<circle cx="694.5" cy="188.6" r="2.4" fill="#e8251f"/>
<path d="M823.4,468.8 L823.4,482.6 A47.4,24.6 0 0 0 918.1999999999999,482.6 L918.1999999999999,468.8 Z" fill="#c4c08d"/>
<ellipse cx="870.8" cy="468.8" rx="47.4" ry="24.6" fill="#4a410e"/>
<clipPath id="capc"><ellipse cx="870.8" cy="468.8" rx="47.4" ry="24.6"/></clipPath>
<ellipse cx="870.8" cy="479.1" rx="46.199999999999996" ry="25.200000000000003" fill="#aba671" clip-path="url(#capc)"/>
<path d="M758.2,121.7 L758.2,442.5 A15,6 0 0 0 788.2,442.5 L788.2,121.7 Z" fill="#c3bfa4"/>
<path d="M758.2,121.7 L758.2,442.5 A15,6 0 0 0 765.3,447 L765.3,121.7 Z" fill="#c6c2a6"/>
<rect x="765.3" y="125" width="8.5" height="323.3" fill="#d7dbc6"/>
<ellipse cx="773.8" cy="121.7" rx="15.5" ry="9.3" fill="#afaa76"/>
<ellipse cx="773.8" cy="121.4" rx="10.2" ry="6" fill="#4a410e"/>
<clipPath id="btc"><path d="M825,167.3 L825,430 C825,442 850,448 872.5,448 C895,448 920,442 920,430 L920,167.3 Z"/></clipPath>
<g clip-path="url(#btc)"><rect x="825" y="160" width="95" height="300" fill="#c3bfa4"/><rect x="825" y="160" width="34" height="300" fill="#c6c2a6"/><rect x="859" y="160" width="15.7" height="300" fill="#d7dbc6"/></g>
<ellipse cx="872.6" cy="167.3" rx="47.6" ry="26" fill="#afaa76"/>
<ellipse cx="872.6" cy="166.6" rx="38.3" ry="19.3" fill="#4a410e"/>
<path d="M748.8,477.3 L724.3,462.7 L725.0,460.6 L727.2,461.0 L727.9,458.9 L730.1,459.4 L730.8,457.3 L733.0,457.7 L733.8,455.6 L736.0,456.1 L736.7,453.9 L738.9,454.4 L739.6,452.3 L741.8,452.8 L742.5,450.6 L744.7,451.1 L770.9,465.0 Z" fill="#3c73ab"/>
<path d="M770.9,465.0 L795.3,451.6 L797.5,451.1 L798.2,453.3 L800.4,452.8 L801.1,454.9 L803.3,454.5 L804.0,456.6 L806.2,456.1 L807.0,458.3 L809.2,457.8 L809.9,460.0 L812.1,459.5 L812.8,461.6 L815.0,461.2 L815.7,463.3 L792.4,474.9 Z" fill="#7ba3cc"/>
<path d="M770.9,488.3 L745.8,501.1 L743.6,501.6 L742.9,499.5 L740.7,500.1 L740.0,498.0 L737.8,498.5 L737.1,496.4 L734.9,496.9 L734.2,494.8 L732.0,495.3 L731.3,493.2 L729.1,493.8 L728.4,491.7 L726.2,492.2 L725.5,490.1 L748.8,477.3 Z" fill="#8eb2d9"/>
<path d="M792.4,474.9 L815.1,490.1 L814.1,492.2 L811.9,491.6 L810.9,493.7 L808.6,493.1 L807.6,495.2 L805.4,494.6 L804.4,496.7 L802.1,496.0 L801.1,498.1 L798.9,497.5 L797.9,499.6 L795.6,499.0 L794.6,501.1 L792.4,500.5 L770.9,488.3 Z" fill="#2f69a8"/>
<path d="M770.9,465.0 L792.4,474.9 L770.9,488.3 L748.8,477.3 Z" fill="#9dbde0"/>
<path d="M748.8,477.3 L770.9,488.3 L767.4,490.3 L745.3,479.3 Z" fill="#4f82b8"/>
<path d="M770.9,465.0 L774.5,463.2 L795.5,473.2 L792.4,474.9 Z" fill="#5b8cc0"/>
<path d="M601.3,470.4 C599.3,469.8 593.9,467.6 589.4,466.7 C585.0,465.8 579.1,464.9 574.6,464.9 C570.2,464.9 565.5,465.5 562.8,466.7 C560.0,467.8 558.5,469.5 558.0,471.9 C557.5,474.2 558.8,478.5 559.8,480.7 C560.9,483.0 561.3,484.6 564.3,485.2 C567.2,485.8 573.4,485.1 577.6,484.4 C581.8,483.8 585.5,482.6 589.4,481.5 C593.4,480.4 599.3,478.4 601.3,477.8" fill="none" stroke="#14344f" stroke-width="4.6" stroke-linecap="round" stroke-linejoin="round"/>
<path d="M601.3,470.4 C599.3,469.8 593.9,467.6 589.4,466.7 C585.0,465.8 579.1,464.9 574.6,464.9 C570.2,464.9 565.5,465.5 562.8,466.7 C560.0,467.8 558.5,469.5 558.0,471.9 C557.5,474.2 558.8,478.5 559.8,480.7 C560.9,483.0 561.3,484.6 564.3,485.2 C567.2,485.8 573.4,485.1 577.6,484.4 C581.8,483.8 585.5,482.6 589.4,481.5 C593.4,480.4 599.3,478.4 601.3,477.8" fill="none" stroke="#4583b3" stroke-width="2.8" stroke-dasharray="0.9 2.0"/>
<path d="M601.3,468.1 C599.8,466.9 595.6,462.5 592.4,460.7 C589.2,459.0 585.4,458.0 582.0,457.5 C578.7,456.9 574.3,456.9 572.4,457.5 C570.5,458.0 569.7,459.3 570.5,460.7 C571.2,462.1 573.9,464.3 576.9,465.9 C579.8,467.5 583.9,469.0 588.0,470.4 C592.0,471.7 599.1,473.5 601.3,474.1" fill="none" stroke="#14344f" stroke-width="4.6" stroke-linecap="round" stroke-linejoin="round"/>
<path d="M601.3,468.1 C599.8,466.9 595.6,462.5 592.4,460.7 C589.2,459.0 585.4,458.0 582.0,457.5 C578.7,456.9 574.3,456.9 572.4,457.5 C570.5,458.0 569.7,459.3 570.5,460.7 C571.2,462.1 573.9,464.3 576.9,465.9 C579.8,467.5 583.9,469.0 588.0,470.4 C592.0,471.7 599.1,473.5 601.3,474.1" fill="none" stroke="#4583b3" stroke-width="2.8" stroke-dasharray="0.9 2.0"/>
<path d="M632.4,460.0 C634.6,459.3 641.3,456.9 645.7,456.0 C650.2,455.1 655.4,454.7 659.1,454.8 C662.8,454.9 666.1,455.4 668.0,456.6 C669.8,457.8 670.9,460.7 670.2,462.2 C669.4,463.7 667.1,464.8 663.5,465.5 C659.9,466.2 653.6,465.7 648.7,466.4 C643.8,467.1 636.4,469.1 633.9,469.6" fill="none" stroke="#14344f" stroke-width="4.6" stroke-linecap="round" stroke-linejoin="round"/>
<path d="M632.4,460.0 C634.6,459.3 641.3,456.9 645.7,456.0 C650.2,455.1 655.4,454.7 659.1,454.8 C662.8,454.9 666.1,455.4 668.0,456.6 C669.8,457.8 670.9,460.7 670.2,462.2 C669.4,463.7 667.1,464.8 663.5,465.5 C659.9,466.2 653.6,465.7 648.7,466.4 C643.8,467.1 636.4,469.1 633.9,469.6" fill="none" stroke="#4583b3" stroke-width="2.8" stroke-dasharray="0.9 2.0"/>
<path d="M633.1,465.9 C635.7,465.3 643.6,462.5 648.7,462.2 C653.8,462.0 659.9,463.1 663.5,464.4 C667.2,465.8 669.9,468.4 670.6,470.4 C671.4,472.3 670.1,475.2 668.0,476.3 C665.8,477.4 661.0,477.2 657.6,477.0 C654.1,476.9 651.2,475.9 647.2,475.6 C643.3,475.2 636.1,474.9 633.9,474.8" fill="none" stroke="#14344f" stroke-width="4.6" stroke-linecap="round" stroke-linejoin="round"/>
<path d="M633.1,465.9 C635.7,465.3 643.6,462.5 648.7,462.2 C653.8,462.0 659.9,463.1 663.5,464.4 C667.2,465.8 669.9,468.4 670.6,470.4 C671.4,472.3 670.1,475.2 668.0,476.3 C665.8,477.4 661.0,477.2 657.6,477.0 C654.1,476.9 651.2,475.9 647.2,475.6 C643.3,475.2 636.1,474.9 633.9,474.8" fill="none" stroke="#4583b3" stroke-width="2.8" stroke-dasharray="0.9 2.0"/>
<path d="M633.1,482.2 C635.2,483.0 641.7,485.9 645.7,487.1 C649.8,488.3 654.3,489.2 657.6,489.6 C660.9,490.0 664.1,490.6 665.7,489.6 C667.4,488.6 668.3,485.5 667.7,483.7 C667.0,481.9 665.2,480.3 662.0,478.8 C658.9,477.3 653.4,476.0 648.7,474.8 C644.0,473.7 636.4,472.3 633.9,471.9" fill="none" stroke="#14344f" stroke-width="4.6" stroke-linecap="round" stroke-linejoin="round"/>
<path d="M633.1,482.2 C635.2,483.0 641.7,485.9 645.7,487.1 C649.8,488.3 654.3,489.2 657.6,489.6 C660.9,490.0 664.1,490.6 665.7,489.6 C667.4,488.6 668.3,485.5 667.7,483.7 C667.0,481.9 665.2,480.3 662.0,478.8 C658.9,477.3 653.4,476.0 648.7,474.8 C644.0,473.7 636.4,472.3 633.9,471.9" fill="none" stroke="#4583b3" stroke-width="2.8" stroke-dasharray="0.9 2.0"/>
<path d="M601,457.3 L632.8,455.8 L633,487.6 L600.3,486.2 Z" fill="#271e6a"/>
</g>
<rect x="20.5" y="57.5" width="264.0" height="133.0" fill="#ffffff" stroke="#111" stroke-width="1.3"/>
<text x="32.2" y="85.8" font-size="23" textLength="218.4" lengthAdjust="spacingAndGlyphs">В в верхних 2/3 узкой трубки</text>
<text x="32.2" y="108.0" font-size="23" textLength="207.4" lengthAdjust="spacingAndGlyphs">сверлим отверстия для по-</text>
<text x="32.2" y="130.2" font-size="23" textLength="202.4" lengthAdjust="spacingAndGlyphs">лива. Оборачиваем трубку</text>
<text x="32.2" y="152.4" font-size="23" textLength="220.8" lengthAdjust="spacingAndGlyphs">мешковиной, нижний конец</text>
<text x="32.2" y="174.5" font-size="23" textLength="237.8" lengthAdjust="spacingAndGlyphs">запечатываем клейкой лентой.</text>
<path d="M284.0,111.8 L376.0,111.8" fill="none" stroke="#111" stroke-width="1.8"/>
<circle cx="376.2" cy="111.8" r="2.9" fill="#111"/>
<rect x="20.5" y="216.5" width="194.0" height="151.0" fill="#ffffff" stroke="#111" stroke-width="1.3"/>
<text x="32.2" y="245.3" font-size="23" textLength="149.2" lengthAdjust="spacingAndGlyphs">Вырезаем три ряда</text>
<text x="32.2" y="267.5" font-size="23" textLength="168.3" lengthAdjust="spacingAndGlyphs">отверстий в основной</text>
<text x="32.2" y="289.7" font-size="23" textLength="135.8" lengthAdjust="spacingAndGlyphs">трубе. Расстояние</text>
<text x="32.2" y="311.9" font-size="23" textLength="143.5" lengthAdjust="spacingAndGlyphs">между ними около</text>
<text x="32.2" y="333.8" font-size="23" textLength="167.3" lengthAdjust="spacingAndGlyphs">20 см. Закрываем дно</text>
<text x="32.2" y="355.5" font-size="23" textLength="82.6" lengthAdjust="spacingAndGlyphs">заглушкой</text>
<path d="M214.8,312.7 L327.0,312.7" fill="none" stroke="#111" stroke-width="1.8"/>
<circle cx="327.3" cy="312.7" r="2.9" fill="#111"/>
<rect x="20.5" y="393.5" width="194.0" height="176.0" fill="#ffffff" stroke="#111" stroke-width="1.3"/>
<text x="32.2" y="423.1" font-size="23" textLength="151.8" lengthAdjust="spacingAndGlyphs">Заполняем нижние</text>
<text x="32.2" y="445.2" font-size="23" textLength="148.0" lengthAdjust="spacingAndGlyphs">10 см трубы балла-</text>
<text x="32.2" y="467.2" font-size="23" textLength="131.3" lengthAdjust="spacingAndGlyphs">стом — крупным</text>
<text x="32.2" y="489.3" font-size="23" textLength="157.8" lengthAdjust="spacingAndGlyphs">гравием. Заполняем</text>
<text x="32.2" y="511.5" font-size="23" textLength="132.8" lengthAdjust="spacingAndGlyphs">почвой и сажаем</text>
<text x="32.2" y="533.6" font-size="23" textLength="157.5" lengthAdjust="spacingAndGlyphs">клубнику. Поливаем</text>
<text x="32.2" y="555.6" font-size="23" textLength="145.3" lengthAdjust="spacingAndGlyphs">через узкую трубку</text>
<path d="M214.8,475.0 L348.0,475.0" fill="none" stroke="#111" stroke-width="1.8"/>
<circle cx="348.2" cy="475.0" r="2.9" fill="#111"/>
<rect x="548.0" y="98.0" width="69.0" height="42.0" fill="#ffffff" stroke="#111" stroke-width="1.6"/>
<text x="557.9" y="123.7" font-size="20.6" textLength="45.8" lengthAdjust="spacingAndGlyphs">Дрель</text>
<path d="M617.1,115.6 L649,115.6 Q657.3,115.6 657.3,124 L657.3,162" fill="none" stroke="#111" stroke-width="1.8"/>
<circle cx="657.5" cy="162.0" r="2.9" fill="#111"/>
<rect x="548.0" y="195.0" width="110.0" height="42.0" fill="#ffffff" stroke="#111" stroke-width="1.6"/>
<text x="559.2" y="221.0" font-size="20.6" textLength="85.1" lengthAdjust="spacingAndGlyphs">Мешковина</text>
<path d="M635.0,236.7 L635.0,314.0" fill="none" stroke="#111" stroke-width="1.8"/>
<circle cx="635.0" cy="314.3" r="2.9" fill="#111"/>
<path d="M780.7,271.7 L780.7,298.0" fill="none" stroke="#111" stroke-width="1.8"/>
<circle cx="780.7" cy="271.7" r="2.9" fill="#111"/>
<path d="M843.3,271.7 L843.3,298.0" fill="none" stroke="#111" stroke-width="1.8"/>
<circle cx="843.3" cy="271.7" r="2.9" fill="#111"/>
<rect x="771.0" y="298.0" width="95.0" height="43.0" fill="#ffffff" stroke="#111" stroke-width="1.7"/>
<text x="782.3" y="325.0" font-size="20.6" textLength="73.4" lengthAdjust="spacingAndGlyphs">Две трубы</text>
<path d="M606.8,472.6 L606.8,528.0" fill="none" stroke="#111" stroke-width="1.8"/>
<circle cx="606.8" cy="472.6" r="2.9" fill="#111"/>
<rect x="548.0" y="528.0" width="79.0" height="42.0" fill="#ffffff" stroke="#111" stroke-width="1.6"/>
<text x="559.6" y="553.6" font-size="20.6" textLength="52.3" lengthAdjust="spacingAndGlyphs">Шпагат</text>
<path d="M768.5,478.5 L768.5,528.0" fill="none" stroke="#111" stroke-width="1.8"/>
<circle cx="768.5" cy="478.5" r="2.9" fill="#111"/>
<rect x="677.0" y="528.0" width="124.0" height="42.0" fill="#ffffff" stroke="#111" stroke-width="1.6"/>
<text x="688.6" y="553.6" font-size="20.6" textLength="103.4" lengthAdjust="spacingAndGlyphs">Клейкая лента</text>
<path d="M873.6,478.0 L873.6,528.0" fill="none" stroke="#111" stroke-width="1.8"/>
<circle cx="873.6" cy="478.0" r="2.9" fill="#111"/>
<rect x="824.0" y="528.0" width="94.0" height="42.0" fill="#ffffff" stroke="#111" stroke-width="1.6"/>
<text x="834.8" y="553.6" font-size="20.6" textLength="70.2" lengthAdjust="spacingAndGlyphs">Заглушка</text>
<rect width="945" height="630" fill="url(#bgv)" pointer-events="none"/>
<rect width="945" height="630" fill="url(#bgh)" pointer-events="none"/>
</svg>
</body></html>
